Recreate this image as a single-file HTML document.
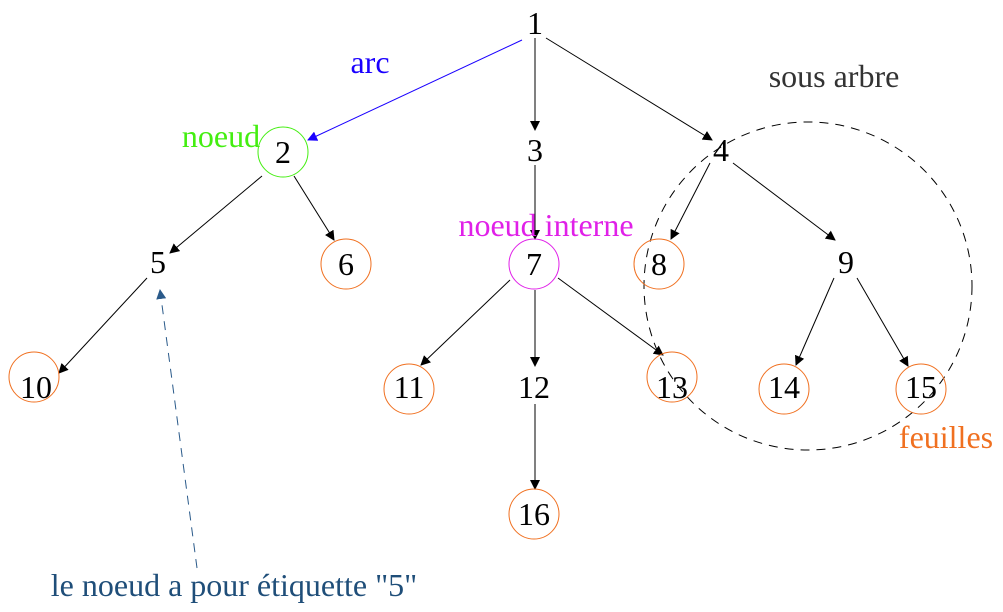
<!DOCTYPE html>
<html><head><meta charset="utf-8"><style>
html,body{margin:0;padding:0;background:#fff;}
svg{display:block;}
text{font-family:"Liberation Serif",serif;font-size:32px;text-anchor:middle;}
</style></head><body>
<svg width="1003" height="612" viewBox="0 0 1003 612">
<defs>
<marker id="a" markerWidth="10" markerHeight="10" refX="9" refY="5" orient="auto" markerUnits="userSpaceOnUse"><path d="M0,0 L10,5 L0,10 z" fill="#000"/></marker>
<marker id="b" markerWidth="10" markerHeight="10" refX="9" refY="5" orient="auto" markerUnits="userSpaceOnUse"><path d="M0,0 L10,5 L0,10 z" fill="#1a00ff"/></marker>
<marker id="c" markerWidth="10" markerHeight="10" refX="9" refY="5" orient="auto" markerUnits="userSpaceOnUse"><path d="M0,0 L10,5 L0,10 z" fill="#2a5a8a"/></marker>
</defs>
<circle cx="808" cy="286" r="164" fill="none" stroke="#000" stroke-width="1" stroke-dasharray="9,7"/>
<g stroke="#000" stroke-width="1" fill="none" marker-end="url(#a)">
<line x1="535" y1="38" x2="535" y2="130"/>
<line x1="546" y1="38" x2="712" y2="140"/>
<line x1="262" y1="176" x2="170" y2="253"/>
<line x1="294" y1="176" x2="334" y2="240"/>
<line x1="535" y1="165" x2="535" y2="239"/>
<line x1="710" y1="163" x2="671" y2="239"/>
<line x1="733" y1="163" x2="835" y2="240"/>
<line x1="147" y1="278" x2="59" y2="373"/>
<line x1="510" y1="280" x2="421" y2="365"/>
<line x1="535" y1="290" x2="535" y2="366"/>
<line x1="558" y1="278" x2="663" y2="355"/>
<line x1="834" y1="278" x2="796" y2="365"/>
<line x1="857" y1="278" x2="908" y2="366"/>
<line x1="535" y1="404" x2="535" y2="489"/>
</g>
<line x1="522" y1="40" x2="308" y2="140" stroke="#1a00ff" stroke-width="1" marker-end="url(#b)"/>
<line x1="197" y1="568" x2="160" y2="290" stroke="#2a5a8a" stroke-width="1" stroke-dasharray="9,7" marker-end="url(#c)"/>
<circle cx="283" cy="152" r="25" fill="none" stroke="#44ee11"/>
<circle cx="534" cy="264" r="25" fill="none" stroke="#e020e8"/>
<g fill="none" stroke="#f07020">
<circle cx="346" cy="264" r="25"/>
<circle cx="659" cy="264" r="25"/>
<circle cx="34" cy="377" r="25"/>
<circle cx="409" cy="389" r="25"/>
<circle cx="672" cy="377" r="25"/>
<circle cx="784" cy="389" r="25"/>
<circle cx="921" cy="389" r="25"/>
<circle cx="534" cy="514" r="25"/>
</g>
<g fill="#000">
<text x="535" y="34">1</text>
<text x="283" y="163">2</text>
<text x="535" y="161">3</text>
<text x="721" y="161">4</text>
<text x="158" y="273">5</text>
<text x="346" y="275">6</text>
<text x="534" y="275">7</text>
<text x="659" y="275">8</text>
<text x="846" y="273">9</text>
<text x="36" y="398">10</text>
<text x="409" y="398">11</text>
<text x="534" y="398">12</text>
<text x="672" y="398">13</text>
<text x="784" y="398">14</text>
<text x="921" y="398">15</text>
<text x="534" y="525">16</text>
</g>
<text x="370" y="73" fill="#1a00ff">arc</text>
<text x="221" y="147" fill="#44ee11">noeud</text>
<text x="546" y="236" fill="#e020e8">noeud interne</text>
<text x="834" y="87" fill="#333">sous arbre</text>
<text x="946" y="448" fill="#f07020">feuilles</text>
<text x="234" y="596" fill="#1f4e79">le noeud a pour étiquette "5"</text>
</svg>
</body></html>
